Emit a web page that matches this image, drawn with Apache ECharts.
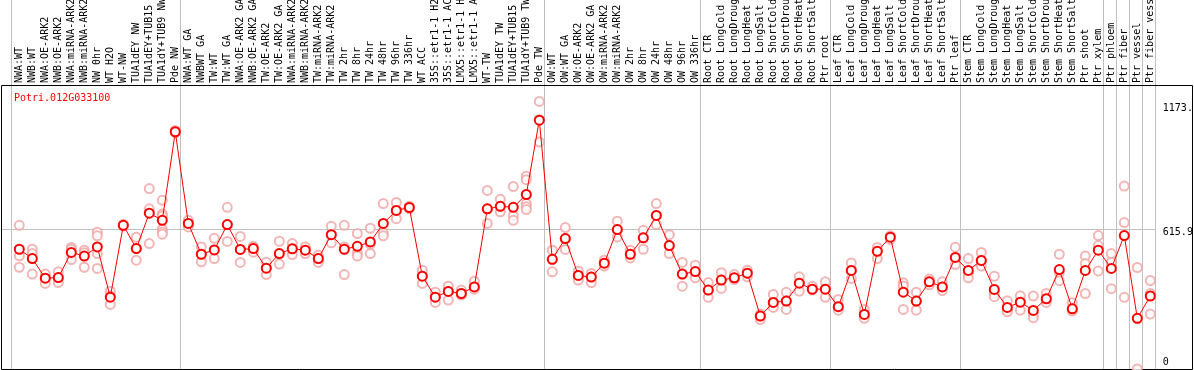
<!DOCTYPE html>
<html>
<head>
<meta charset="utf-8">
<script src="https://cdn.jsdelivr.net/npm/echarts@6/dist/echarts.min.js"></script>
<style>
html,body{margin:0;padding:0;background:#fff;}
#c{width:1194px;height:370px;}
</style>
</head>
<body>
<div id="c"></div>
<script>
const geneName = 'Potri.012G033100';
const categories = [
  "NWA:WT","NWB:WT","NWA:OE-ARK2","NWB:OE-ARK2","NWA:miRNA-ARK2","NWB:miRNA-ARK2","NW 0hr","WT H2O","WT-NW","TUA1dEY NW","TUA1dEY+TUB15 NW","TUA1dY+TUB9 NW","Pde NW",
  "NWA:WT GA","NWBWT GA","TW:WT","TW:WT GA","NWA:OE-ARK2 GA","NWB:OE-ARK2 GA","TW:OE-ARK2","TW:OE-ARK2 GA","NWA:miRNA-ARK2","NWB:miRNA-ARK2","TW:miRNA-ARK2","TW:miRNA-ARK2","TW 2hr","TW 8hr","TW 24hr","TW 48hr","TW 96hr","TW 336hr","WT ACC","35S::etr1-1 H2O","35S::etr1-1 ACC","LMX5::etr1-1 H2O","LMX5::etr1-1 ACC","WT-TW","TUA1dEY TW","TUA1dEY+TUB15 TW","TUA1dY+TUB9 TW","Pde TW",
  "OW:WT","OW:WT GA","OW:OE-ARK2","OW:OE-ARK2 GA","OW:miRNA-ARK2","OW:miRNA-ARK2","OW 2hr","OW 8hr","OW 24hr","OW 48hr","OW 96hr","OW 336hr",
  "Root CTR","Root LongCold","Root LongDrought","Root LongHeat","Root LongSalt","Root ShortCold","Root ShortDrought","Root ShortHeat","Root ShortSalt","Ptr root",
  "Leaf CTR","Leaf LongCold","Leaf LongDrought","Leaf LongHeat","Leaf LongSalt","Leaf ShortCold","Leaf ShortDrought","Leaf ShortHeat","Leaf ShortSalt","Ptr leaf",
  "Stem CTR","Stem LongCold","Stem LongDrought","Stem LongHeat","Stem LongSalt","Stem ShortCold","Stem ShortDrought","Stem ShortHeat","Stem ShortSalt","Ptr shoot","Ptr xylem",
  "Ptr phloem","Ptr fiber","Ptr vessel","Ptr fiber vessel"
];
const groupSizes = [13, 28, 12, 10, 10, 11, 1, 1, 1, 1];
const meanValues = [
  525,484,398,401,511,495,535,315,630,528,683,652,1040,
  638,503,522,633,524,528,442,506,527,521,484,589,525,538,557,638,695,708,407,315,340,331,360,702,713,709,765,1091,
  481,572,410,403,464,611,503,575,673,541,416,427,
  346,390,400,420,232,292,298,376,350,350,
  273,432,239,516,578,337,298,382,360,489,
  432,476,349,270,293,257,308,436,264,432,521,
  441,585,222,320
];
const replicateValues = [
  [630,496,446],[525,506,416],[416,397,375],[426,400,379],[533,525,480],[521,510,446],[600,584,506,441],[341,320,283],[635,628,627],[578,529,477],[791,702,550],[740,680,671,613,601,591],[1046,1040,1036],
  [652,638,623],[535,503,470],[573,522,484],[709,633,559],[581,524,467],[538,533,512],[468,442,414],[560,506,460],[550,527,502],[535,521,506],[499,484,467],[626,589,553],[630,535,414],[594,509,495],[617,547,506],[725,597,584],[730,695,659],[713,708,703],[433,407,375],[337,315,292],[363,340,302],[346,331,324],[385,360,350],[783,702,638],[744,713,689],[800,673,652],[845,830,725,711,699],[1173,1093,995],
  [521,481,426],[620,572,524],[429,410,390],[419,403,379],[477,464,451],[648,611,579],[521,503,487],[608,575,525],[725,673,633],[589,541,506],[467,416,363],[455,427,400],
  [379,346,314],[422,390,353],[414,400,392],[433,420,404],[241,232,217],[327,292,270],[336,298,261],[404,376,341],[363,350,346],[382,350,314],
  [305,273,258],[465,432,397],[261,239,222],[533,516,484],[584,578,568],[378,364,261],[337,298,258],[395,382,369],[382,360,344],[534,489,458],
  [484,420,400],[511,476,451],[407,331,317],[299,258,251],[321,293,258],[320,240,225],[331,308,292],[503,422,387],[290,264,254],[495,462,331],[585,541,430],
  [506,467,352],[802,642,314],[445,221,0],[388,331,241]
];
const yTickValues = [0, 615.9, 1173];
const yTickLabels = ['0', '615.9', '1173.'];

const replicatePoints = [];
replicateValues.forEach((arr, i) => arr.forEach(v => replicatePoints.push([i, v])));

const FONT = 'DejaVu Sans Mono';
const chart = echarts.init(document.getElementById('c'), null, {renderer: 'canvas'});
const option = {
  animation: false,
  backgroundColor: '#ffffff',
  title: {
    text: geneName, left: 9, top: 88,
    textStyle: {color: '#ff0000', fontSize: 10, fontFamily: FONT, fontWeight: 'normal'}
  },
  grid: {left: 12.8, right: 37.2, top: 85, bottom: 1, containLabel: false, outerBoundsMode: 'none'},
  xAxis: {
    type: 'category', position: 'top', data: categories, boundaryGap: true,
    axisLine: {show: false}, axisTick: {show: false}, splitLine: {show: false},
    axisLabel: {interval: 0, rotate: 90, margin: 2, fontSize: 10, fontFamily: FONT, color: '#000', hideOverlap: false}
  },
  yAxis: {
    type: 'value', position: 'right', min: 0, max: 1245,
    axisLine: {show: false}, axisTick: {show: false}, splitLine: {show: false},
    axisLabel: {
      customValues: yTickValues, margin: 6, fontSize: 10, fontFamily: FONT, color: '#000', align: 'left',
      formatter: function (v) {
        const idx = yTickValues.findIndex(t => Math.abs(t - v) < 0.01);
        const txt = idx >= 0 ? yTickLabels[idx] : '';
        if (v === 0) return '{b|' + txt + '}';
        if (v > 1000) return '{a|' + txt + '}';
        return '{c|' + txt + '}';
      },
      rich: {
        a: {fontSize: 10, fontFamily: FONT, color: '#000', padding: [13, 0, 0, 0]},
        b: {fontSize: 10, fontFamily: FONT, color: '#000', padding: [0, 0, 14, 0]},
        c: {fontSize: 10, fontFamily: FONT, color: '#000', padding: [8, 0, 0, 0]}
      }
    }
  },
  series: [
    {
      type: 'scatter', data: replicatePoints, symbol: 'emptyCircle', symbolSize: 9, z: 3,
      itemStyle: {color: '#f0a4a4', borderColor: '#f0a4a4', borderWidth: 1.1},
      emphasis: {disabled: true}
    },
    {
      type: 'line', data: meanValues, symbol: 'emptyCircle', symbolSize: 9, z: 5,
      lineStyle: {color: '#ff0000', width: 1},
      itemStyle: {color: '#ff0000', borderColor: '#ff0000', borderWidth: 1.3},
      emphasis: {disabled: true}
    }
  ]
};
chart.setOption(option);

// gridlines and frame derived from the axes
const x0 = chart.convertToPixel({xAxisIndex: 0}, 0);
const x1 = chart.convertToPixel({xAxisIndex: 0}, 1);
const band = x1 - x0;
const boundaries = [0];
groupSizes.forEach(s => boundaries.push(boundaries[boundaries.length - 1] + s));
const graphics = [];
boundaries.forEach(b => {
  const x = Math.round(x0 + band * (b - 0.5) - 2.1) + 0.5;
  graphics.push({type: 'line', z: 0, silent: true, shape: {x1: x, y1: 0, x2: x, y2: 370}, style: {stroke: '#c0c0c0', lineWidth: 1}});
});
const yRef = Math.round(chart.convertToPixel({yAxisIndex: 0}, yTickValues[1])) + 0.5;
const xLast = Math.round(x0 + band * (categories.length - 0.5) - 2.1) + 0.5;
graphics.push({type: 'line', z: 0, silent: true, shape: {x1: 1, y1: yRef, x2: xLast, y2: yRef}, style: {stroke: '#c0c0c0', lineWidth: 1}});
graphics.push({type: 'rect', z: 1, silent: true, shape: {x: 1.5, y: 85.5, width: 1191, height: 284}, style: {fill: null, stroke: '#000', lineWidth: 1}});
chart.setOption({graphic: graphics});
</script>
</body>
</html>
